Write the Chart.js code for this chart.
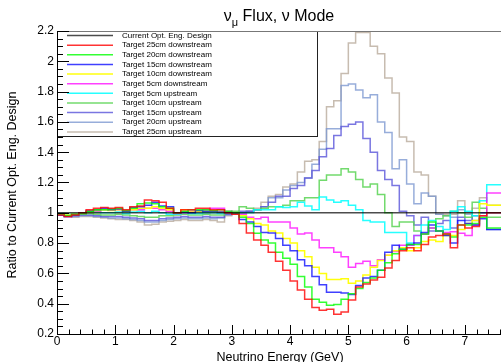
<!DOCTYPE html>
<html>
<head>
<meta charset="utf-8">
<script src="https://cdn.jsdelivr.net/npm/chart.js@4.4.1/dist/chart.umd.min.js"></script>
<style>
  html, body { margin: 0; padding: 0; background: #fff; }
  canvas { display: block; }
</style>
</head>
<body>
<canvas id="fluxChart" width="501" height="362"></canvas>
<script>
// bins are 0.125 GeV wide, starting at 0
const binWidth = 0.125;
const xTicks = [0, 1, 2, 3, 4, 5, 6, 7];
const yTicks = [0.2, 0.4, 0.6, 0.8, 1, 1.2, 1.4, 1.6, 1.8, 2, 2.2];

const seriesNames = [
  'Current Opt. Eng. Design',
  'Target 25cm downstream',
  'Target 20cm downstream',
  'Target 15cm downstream',
  'Target 10cm downstream',
  'Target 5cm downstream',
  'Target 5cm upstream',
  'Target 10cm upstream',
  'Target 15cm upstream',
  'Target 20cm upstream',
  'Target 25cm upstream'
];

const currentDesign = [1,1,1,1,1,1,1,1,1,1, 1,1,1,1,1,1,1,1,1,1, 1,1,1,1,1,1,1,1,1,1,
  1,1,1,1,1,1,1,1,1,1, 1,1,1,1,1,1,1,1,1,1, 1,1,1,1,1,1,1,1,1,1, 1];
const down25 = [0.99,0.985,0.975,0.985,1.0,1.02,1.03,1.035,1.03,1.035,
  1.02,1.04,1.045,1.085,1.08,1.07,1.03,1.0,1.02,1.02,
  1.03,1.03,1.02,1.02,1.0,0.99,0.93,0.866,0.82,0.785,
  0.74,0.68,0.62,0.55,0.49,0.43,0.375,0.357,0.364,0.33,
  0.345,0.425,0.51,0.53,0.557,0.575,0.636,0.685,0.75,0.77,
  0.75,0.79,0.84,0.85,0.86,0.77,0.92,0.90,0.91,0.98,1.0];
const down20 = [0.99,0.99,0.98,0.99,0.995,1.01,1.02,1.02,1.025,1.03,
  1.015,1.03,1.06,1.065,1.06,1.04,1.03,1.0,1.01,1.02,
  1.02,1.02,1.015,1.02,1.01,1.0,0.97,0.93,0.865,0.82,
  0.80,0.74,0.70,0.66,0.58,0.51,0.43,0.41,0.39,0.395,
  0.43,0.465,0.50,0.54,0.57,0.62,0.67,0.73,0.76,0.79,
  0.79,0.86,0.94,0.88,0.86,0.84,0.92,0.92,0.93,0.97,0.90];
const down15 = [0.99,0.985,0.975,0.985,0.995,1.01,1.02,1.03,1.02,1.025,
  1.01,1.035,1.04,1.05,1.07,1.045,1.04,1.0,1.005,1.0,
  1.015,1.01,1.01,1.005,1.0,0.995,0.955,0.94,0.91,0.87,
  0.866,0.83,0.785,0.75,0.69,0.65,0.58,0.525,0.475,0.475,
  0.47,0.46,0.52,0.57,0.58,0.62,0.74,0.785,0.76,0.79,
  0.80,0.87,0.92,0.88,0.85,0.80,0.95,0.93,0.92,0.96,0.89];
const down10 = [0.995,0.99,0.985,0.99,0.995,1.005,1.015,1.02,1.015,1.02,
  1.01,1.02,1.03,1.03,1.04,1.03,1.02,1.0,1.02,1.005,
  1.01,1.01,1.01,1.005,1.0,1.0,0.98,0.96,0.93,0.92,
  0.88,0.866,0.83,0.80,0.75,0.71,0.64,0.60,0.56,0.56,
  0.565,0.535,0.55,0.59,0.64,0.685,0.72,0.75,0.77,0.75,
  0.77,0.81,0.82,0.81,0.85,0.85,0.89,0.93,0.95,1.06,1.05];
const down5 = [0.995,0.99,0.975,0.99,1.0,1.015,1.01,1.02,1.02,1.02,
  1.01,1.02,1.02,1.03,1.03,1.02,1.01,0.995,1.0,1.01,
  1.01,1.02,1.03,1.03,1.01,1.0,0.99,0.97,0.96,0.97,
  0.94,0.94,0.94,0.90,0.86,0.866,0.82,0.77,0.77,0.74,
  0.71,0.64,0.665,0.68,0.65,0.69,0.72,0.745,0.785,0.785,
  0.85,0.86,0.90,0.88,0.87,0.875,0.865,0.85,0.92,0.98,1.13];
const up5 = [0.995,0.995,0.99,0.99,1.0,1.005,1.005,1.0,1.0,1.005,
  0.995,1.005,1.01,1.0,1.01,1.0,0.99,0.99,1.0,0.995,
  0.995,1.0,1.0,0.995,1.0,1.0,1.0,1.0,1.02,1.02,
  1.02,1.04,1.035,1.04,1.07,1.045,1.02,1.105,1.085,1.07,
  1.08,1.05,1.02,0.95,0.94,0.94,0.87,0.87,0.87,0.80,
  0.85,0.92,0.95,0.91,0.89,1.01,1.04,1.01,0.98,1.08,1.185];
const up10 = [0.99,0.99,0.985,0.985,0.99,0.995,0.99,0.985,0.985,0.99,
  0.985,0.98,0.975,0.97,0.97,0.98,0.98,0.985,0.99,0.985,
  0.985,0.99,0.985,0.985,1.0,1.01,1.04,1.03,1.02,1.03,
  1.04,1.04,1.05,1.08,1.08,1.10,1.10,1.215,1.25,1.25,
  1.29,1.27,1.22,1.17,1.19,1.12,1.0,0.91,0.94,0.94,
  0.88,0.86,0.90,0.96,0.98,1.01,1.0,0.97,1.07,1.03,0.97];
const up15 = [0.99,0.985,0.98,0.98,0.985,0.985,0.98,0.975,0.975,0.975,
  0.97,0.965,0.96,0.95,0.95,0.96,0.965,0.97,0.975,0.97,
  0.97,0.975,0.97,0.97,0.99,1.0,1.01,1.01,1.02,1.04,
  1.07,1.11,1.11,1.16,1.18,1.23,1.28,1.37,1.425,1.51,
  1.57,1.585,1.60,1.49,1.40,1.28,1.22,1.18,1.01,0.98,
  0.92,0.97,0.88,0.93,0.95,0.90,0.97,0.95,0.98,1.0,1.0];
const up20 = [0.99,0.985,0.975,0.975,0.98,0.98,0.975,0.97,0.965,0.965,
  0.96,0.955,0.95,0.94,0.94,0.95,0.955,0.96,0.965,0.96,
  0.96,0.965,0.96,0.965,0.985,1.0,1.0,1.01,1.02,1.04,
  1.10,1.10,1.15,1.18,1.20,1.23,1.32,1.42,1.555,1.555,
  1.84,1.85,1.81,1.76,1.78,1.60,1.53,1.29,1.35,1.19,
  1.06,1.13,1.11,0.99,0.98,0.97,1.02,0.99,0.95,1.0,0.89];
const up25 = [0.99,0.985,0.975,0.97,0.975,0.975,0.97,0.965,0.96,0.955,
  0.955,0.95,0.94,0.92,0.925,0.94,0.945,0.95,0.955,0.95,
  0.95,0.955,0.95,0.94,0.98,0.99,1.0,1.01,1.03,1.07,
  1.11,1.12,1.17,1.19,1.27,1.34,1.35,1.47,1.70,1.74,
  1.92,2.12,2.19,2.19,2.10,2.05,1.89,1.79,1.50,1.47,
  1.27,1.25,1.11,0.99,0.99,0.99,1.08,1.0,1.03,1.10,1.05];

const seriesValues = [currentDesign, down25, down20, down15, down10, down5,
  up5, up10, up15, up20, up25];
const seriesColors = [
  'rgba(0,0,0,0.7)',
  'rgba(255,0,0,0.8)',
  'rgba(0,255,0,0.8)',
  'rgba(0,0,255,0.75)',
  'rgba(255,255,0,0.95)',
  'rgba(255,0,255,0.75)',
  'rgba(0,255,255,0.85)',
  'rgba(89,212,84,0.85)',
  'rgba(89,84,217,0.8)',
  'rgba(125,153,209,0.8)',
  'rgba(180,165,150,0.75)'
];

// step histogram: a point on every bin's low edge, plus the last high edge
function histPoints(values) {
  const pts = values.map((v, i) => ({ x: i * binWidth, y: v }));
  pts.push({ x: values.length * binWidth, y: values[values.length - 1] });
  return pts;
}

const FONT = '"Liberation Sans", Arial, Helvetica, sans-serif';

const rootFrame = {
  id: 'rootFrame',
  afterDatasetsDraw(chart) {
    const ctx = chart.ctx;
    const area = chart.chartArea;
    const xs = chart.scales.x;
    const ys = chart.scales.y;
    ctx.save();

    // legend box
    const lx0 = 57, lx1 = 318, ly0 = 31, ly1 = 137;
    ctx.fillStyle = '#fff';
    ctx.fillRect(lx0, ly0, lx1 - lx0, ly1 - ly0);
    ctx.strokeStyle = '#222';
    ctx.lineWidth = 1;
    ctx.strokeRect(lx0 + 0.5, ly0 + 0.5, lx1 - lx0 - 1, ly1 - ly0 - 1);
    ctx.font = '8px ' + FONT;
    ctx.textBaseline = 'middle';
    ctx.textAlign = 'left';
    seriesNames.forEach((name, k) => {
      const y = 35.5 + k * 9.64;
      ctx.strokeStyle = seriesColors[k];
      ctx.lineWidth = 1.5;
      ctx.beginPath();
      ctx.moveTo(67, y);
      ctx.lineTo(113, y);
      ctx.stroke();
      ctx.fillStyle = '#000';
      ctx.fillText(name, 122, y);
    });

    // frame
    ctx.strokeStyle = '#000';
    ctx.lineWidth = 1;
    ctx.beginPath();
    ctx.moveTo(area.left + 0.5, area.top);
    ctx.lineTo(area.left + 0.5, area.bottom + 0.5);
    ctx.lineTo(area.right, area.bottom + 0.5);
    ctx.stroke();
    ctx.strokeStyle = '#777';
    ctx.beginPath();
    ctx.moveTo(area.left, area.top + 0.5);
    ctx.lineTo(area.right, area.top + 0.5);
    ctx.stroke();

    // ticks, drawn inside the frame
    ctx.strokeStyle = '#000';
    ctx.beginPath();
    for (let v = 0; v <= xs.max + 1e-9; v += 0.2) {
      const px = Math.round(xs.getPixelForValue(v)) + 0.5;
      const major = Math.abs(v - Math.round(v)) < 1e-6;
      ctx.moveTo(px, area.bottom);
      ctx.lineTo(px, area.bottom - (major ? 9 : 4.5));
    }
    for (let v = 0.2; v <= 2.2 + 1e-9; v += 0.05) {
      const py = Math.round(ys.getPixelForValue(v)) + 0.5;
      const major = Math.abs(v * 5 - Math.round(v * 5)) < 1e-6;
      ctx.moveTo(area.left, py);
      ctx.lineTo(area.left + (major ? 12 : 6), py);
    }
    ctx.stroke();

    // tick labels
    ctx.fillStyle = '#000';
    ctx.font = '12px ' + FONT;
    ctx.textAlign = 'right';
    ctx.textBaseline = 'middle';
    yTicks.forEach(v => {
      ctx.fillText(String(v), area.left - 3, ys.getPixelForValue(v));
    });
    ctx.textAlign = 'center';
    ctx.textBaseline = 'top';
    xTicks.forEach(v => {
      ctx.fillText(String(v), xs.getPixelForValue(v), area.bottom + 2);
    });

    // axis titles
    ctx.font = '12.5px ' + FONT;
    ctx.textBaseline = 'alphabetic';
    ctx.fillText('Neutrino Energy (GeV)', 280, 361);
    ctx.save();
    ctx.translate(15.5, 185);
    ctx.rotate(-Math.PI / 2);
    ctx.fillText('Ratio to Current Opt. Eng. Design', 0, 0);
    ctx.restore();

    // title: nu_mu Flux, nu Mode
    const big = '16px ' + FONT, small = '11px ' + FONT;
    ctx.textAlign = 'left';
    ctx.font = big;
    const w1 = ctx.measureText('\u03bd').width;
    const w3 = ctx.measureText(' Flux, \u03bd Mode').width;
    ctx.font = small;
    const w2 = ctx.measureText('\u03bc').width;
    let tx = 279 - (w1 + w2 + w3) / 2;
    ctx.font = big;
    ctx.fillText('\u03bd', tx, 21);
    ctx.font = small;
    ctx.fillText('\u03bc', tx + w1, 25.5);
    ctx.font = big;
    ctx.fillText(' Flux, \u03bd Mode', tx + w1 + w2, 21);

    ctx.restore();
  }
};

const ctx = document.getElementById('fluxChart').getContext('2d');
new Chart(ctx, {
  type: 'line',
  data: {
    datasets: seriesValues.map((vals, k) => ({
      label: seriesNames[k],
      data: histPoints(vals),
      borderColor: seriesColors[k],
      borderWidth: 1.5,
      stepped: 'after',
      pointRadius: 0,
      fill: false
    }))
  },
  options: {
    responsive: false,
    animation: false,
    devicePixelRatio: 1,
    layout: { padding: { left: 57, top: 31, right: 0, bottom: 28 } },
    scales: {
      x: { type: 'linear', min: 0, max: 7.62, display: false },
      y: { type: 'linear', min: 0.2, max: 2.2, display: false }
    },
    plugins: {
      legend: { display: false },
      tooltip: { enabled: false }
    }
  },
  plugins: [rootFrame]
});
</script>
</body>
</html>
